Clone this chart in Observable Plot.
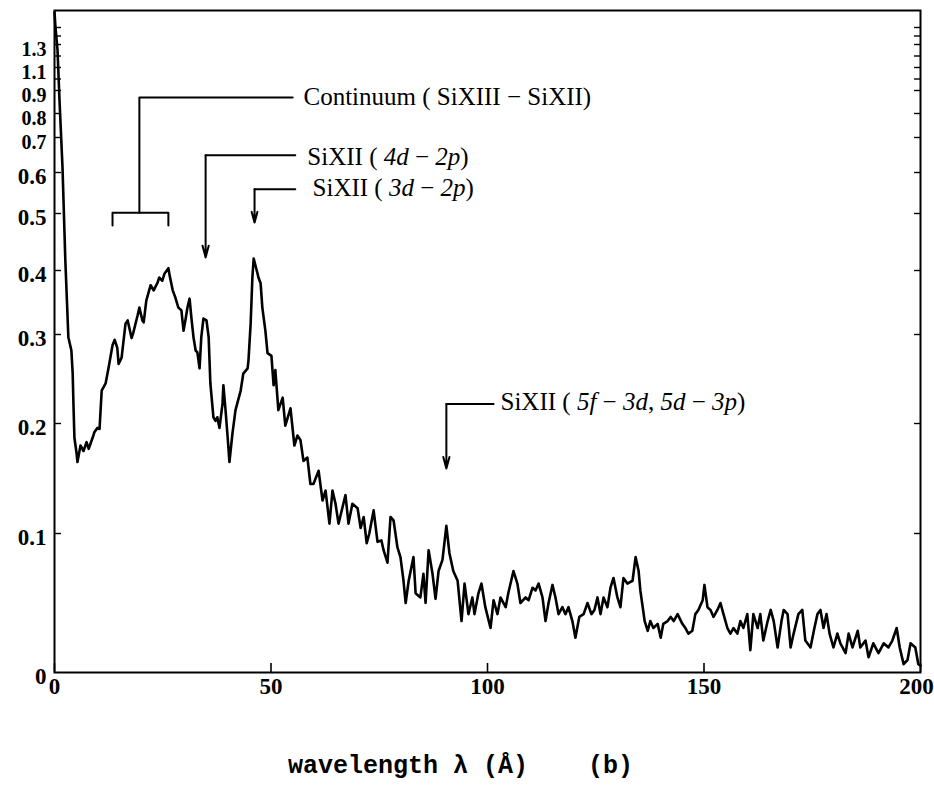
<!DOCTYPE html>
<html><head><meta charset="utf-8">
<script src="https://cdn.jsdelivr.net/npm/d3@7"></script>
<script src="https://cdn.jsdelivr.net/npm/@observablehq/plot@0.6"></script>
<style>
body{margin:0;background:#fff;}
#caption{font-family:"Liberation Mono",monospace;font-weight:bold;font-size:25px;white-space:pre;margin:33px 0 0 288px;color:#000;line-height:28px;}
</style></head><body>
<div id="chart"></div>
<div id="caption">wavelength λ (Å)    (b)</div>
<script>
// spectrum: [wavelength (Å), intensity]
const spectrum = [[0,1.68],[0.2,1.52],[0.7,1.25],[1.15,0.86],[1.85,0.614],[2.5,0.418],[3.2,0.297],[3.9,0.282],[4.2,0.256],[4.4,0.218],[4.6,0.187],[5.1,0.173],[5.3,0.165],[6.0,0.18],[6.7,0.175],[7.4,0.183],[7.9,0.177],[8.8,0.187],[9.2,0.192],[9.9,0.196],[10.4,0.195],[10.9,0.237],[11.8,0.245],[12.5,0.263],[13.4,0.288],[13.9,0.294],[14.5,0.285],[14.8,0.267],[15.5,0.274],[16.4,0.317],[16.9,0.322],[17.8,0.296],[18.2,0.303],[19.2,0.33],[19.6,0.342],[20.3,0.322],[20.6,0.319],[21.2,0.353],[22.2,0.377],[22.9,0.369],[23.8,0.381],[24.2,0.389],[24.9,0.384],[25.4,0.395],[26.3,0.404],[26.6,0.392],[27.3,0.369],[27.9,0.358],[28.6,0.342],[29.3,0.338],[29.8,0.306],[30.3,0.325],[30.7,0.342],[31.2,0.356],[31.6,0.327],[32.1,0.297],[32.6,0.282],[33.0,0.28],[33.5,0.262],[33.9,0.297],[34.4,0.325],[35.1,0.322],[35.6,0.297],[36.0,0.245],[36.7,0.207],[37.2,0.203],[37.6,0.207],[38.1,0.196],[38.8,0.222],[39.0,0.243],[39.5,0.215],[40.0,0.187],[40.4,0.165],[41.1,0.191],[41.8,0.215],[43.0,0.237],[43.6,0.256],[44.6,0.262],[44.8,0.271],[45.3,0.317],[45.7,0.389],[46.0,0.421],[46.9,0.395],[47.1,0.389],[47.6,0.38],[48.0,0.342],[48.7,0.306],[49.2,0.279],[50.1,0.276],[50.6,0.243],[51.0,0.26],[51.7,0.215],[52.7,0.229],[53.3,0.198],[54.5,0.217],[55.4,0.18],[56.1,0.189],[56.8,0.185],[57.5,0.166],[58.4,0.169],[59.1,0.145],[59.8,0.145],[61.0,0.157],[61.9,0.13],[62.6,0.139],[63.5,0.109],[64.2,0.139],[64.9,0.127],[65.6,0.109],[67.2,0.135],[67.9,0.109],[68.8,0.127],[70.0,0.123],[70.7,0.105],[71.4,0.115],[72.1,0.093],[72.7,0.1],[73.7,0.121],[74.6,0.094],[75.5,0.095],[76.0,0.088],[76.9,0.079],[77.6,0.115],[78.3,0.112],[79.2,0.09],[79.9,0.083],[80.6,0.066],[81.1,0.05],[81.8,0.066],[82.9,0.083],[83.4,0.057],[84.5,0.054],[85.2,0.071],[85.7,0.05],[86.4,0.088],[87.3,0.071],[88.0,0.053],[88.7,0.073],[89.6,0.081],[90.5,0.107],[91.2,0.086],[92.1,0.073],[93.1,0.066],[94.0,0.037],[94.7,0.064],[95.6,0.042],[96.5,0.054],[97.0,0.042],[97.9,0.057],[98.6,0.064],[99.5,0.047],[100.7,0.032],[101.4,0.052],[102.3,0.042],[103.0,0.054],[104.2,0.047],[104.8,0.057],[106.0,0.073],[106.9,0.064],[107.6,0.05],[108.8,0.054],[109.5,0.052],[110.4,0.061],[111.1,0.059],[111.8,0.064],[112.7,0.054],[113.4,0.037],[114.1,0.05],[115.0,0.063],[115.7,0.054],[116.4,0.042],[117.3,0.047],[118.0,0.042],[118.7,0.047],[119.6,0.037],[120.3,0.025],[121.2,0.04],[122.2,0.042],[123.1,0.05],[124.0,0.042],[124.7,0.045],[125.4,0.054],[126.1,0.042],[126.8,0.054],[127.7,0.047],[128.4,0.061],[129.1,0.068],[130.0,0.054],[130.7,0.047],[131.4,0.068],[132.3,0.064],[133.5,0.066],[134.2,0.083],[134.9,0.073],[135.3,0.059],[136.3,0.037],[137.0,0.03],[137.6,0.037],[138.3,0.032],[139.3,0.035],[140.0,0.025],[140.6,0.035],[141.6,0.037],[142.3,0.04],[143.0,0.037],[143.9,0.042],[145.0,0.035],[145.7,0.032],[146.4,0.028],[147.3,0.03],[148.0,0.042],[148.7,0.045],[149.7,0.052],[150.1,0.063],[150.8,0.047],[151.5,0.045],[152.2,0.04],[153.1,0.045],[153.8,0.05],[154.5,0.042],[155.4,0.032],[156.1,0.028],[156.8,0.032],[157.7,0.028],[158.4,0.037],[159.1,0.032],[160.0,0.042],[160.7,0.016],[161.4,0.042],[162.4,0.032],[163.0,0.042],[163.7,0.023],[164.7,0.037],[165.4,0.045],[166.1,0.037],[167.0,0.018],[167.9,0.037],[168.4,0.045],[169.3,0.042],[170.0,0.018],[170.7,0.028],[171.8,0.042],[172.7,0.045],[173.4,0.023],[174.6,0.018],[175.5,0.032],[176.2,0.042],[176.9,0.045],[177.6,0.032],[178.3,0.042],[179.0,0.028],[179.9,0.018],[180.8,0.028],[181.5,0.021],[182.7,0.014],[183.4,0.028],[184.3,0.018],[185.5,0.03],[186.1,0.018],[187.3,0.023],[188.0,0.011],[189.1,0.021],[190.3,0.014],[191.5,0.021],[192.6,0.018],[193.5,0.023],[194.5,0.032],[195.2,0.018],[196.1,0.006],[197.0,0.009],[197.7,0.021],[198.8,0.018],[199.5,0.006],[200,0.005]];

// axis tick values and labels
const xTicks = [0, 50, 100, 150];
const xTicksEnd = [200];
const yLabelTicksLow = [0, 0.1, 0.2, 0.3, 0.4, 0.5, 0.6];
const yLabelTicksHigh = [0.7, 0.8, 0.9, 1.1, 1.3];
const yMarkTicks = [0.1, 0.2, 0.3, 0.4, 0.5, 0.6, 0.7, 0.8, 0.9, 1.0, 1.1, 1.2, 1.3, 1.4, 1.5];
// hand-drawn nonlinear ordinate of the original figure (value knots)
const yKnots = [0, 0.1, 0.2, 0.3, 0.4, 0.5, 0.6, 0.7, 0.8, 0.9, 1.1, 1.3, 1.7];

// annotation leaders (polylines, in data units) and arrows
const leaderLines = [
  {id: "bracket", pts: [[13.4, 0.479], [13.4, 0.502], [26.3, 0.502], [26.3, 0.479]]},
  {id: "cont", pts: [[19.6, 0.502], [19.6, 0.87], [55.0, 0.87]]},
  {id: "4d", pts: [[55.6, 0.649], [34.9, 0.649]]},
  {id: "3d", pts: [[55.6, 0.559], [46.2, 0.559]]},
  {id: "5f", pts: [[101.4, 0.222], [90.5, 0.222]]}
];
const arrows = [
  {x: 34.9, from: 0.649, to: 0.423},
  {x: 46.2, from: 0.559, to: 0.484},
  {x: 90.5, from: 0.222, to: 0.159}
];
const labels = [
  {text: "Continuum ( SiXIII − SiXII)", x: 57.5, y: 0.87},
  {text: "SiXII ( *4d* − *2p*)", x: 58.4, y: 0.645},
  {text: "SiXII ( *3d* − *2p*)", x: 59.6, y: 0.561},
  {text: "SiXII ( *5f* − *3d*, *5d* − *3p*)", x: 103, y: 0.224}
];

const data = spectrum.map(([w, v]) => ({w, v}));
const leaderData = leaderLines.flatMap(l => l.pts.map(([x, y]) => ({id: l.id, x, y})));
const yFmt = d => d === 0 ? "0" : d.toFixed(1);

const chart = Plot.plot({
  width: 934,
  height: 720,
  marginLeft: 54,
  marginRight: 14,
  marginTop: 10,
  marginBottom: 48,
  style: {fontFamily: "Liberation Serif", color: "#000", background: "#fff"},
  x: {domain: [0, 200]},
  y: {type: "linear", domain: yKnots, range: [672, 533, 423, 334, 270, 213, 172, 137, 113, 90, 67, 44, 10]},
  marks: [
    Plot.frame({stroke: "#000", strokeWidth: 2}),
    // tick marks pointing inward
    Plot.axisX({ticks: [...xTicks, ...xTicksEnd], tickSize: -9, tickFormat: () => "", label: null, strokeWidth: 1.6}),
    Plot.axisY({anchor: "left", ticks: yMarkTicks, tickSize: -7, tickFormat: () => "", label: null, strokeWidth: 1.4}),
    Plot.axisY({anchor: "right", ticks: yMarkTicks, tickSize: -7, tickFormat: () => "", label: null, strokeWidth: 1.4}),
    // tick labels
    Plot.axisX({ticks: xTicks, tickSize: 0, tickPadding: 5, tickFormat: d => String(d), label: null, fontSize: 23, fontWeight: "bold"}),
    Plot.axisX({ticks: xTicksEnd, tickSize: 0, tickPadding: 5, dx: -4, tickFormat: d => String(d), label: null, fontSize: 23, fontWeight: "bold"}),
    Plot.axisY({anchor: "left", ticks: yLabelTicksLow, tickSize: 0, tickPadding: 8, dy: 4, tickFormat: yFmt, label: null, fontSize: 23, fontWeight: "bold"}),
    Plot.axisY({anchor: "left", ticks: yLabelTicksHigh, tickSize: 0, tickPadding: 8, dy: 5, tickFormat: yFmt, label: null, fontSize: 20, fontWeight: "bold"}),
    // spectrum
    Plot.line(data, {x: "w", y: "v", stroke: "#000", strokeWidth: 2.6, strokeLinejoin: "round"}),
    // annotation leaders
    Plot.line(leaderData, {x: "x", y: "y", z: "id", stroke: "#000", strokeWidth: 2}),
    Plot.arrow(arrows, {x1: "x", y1: "from", x2: "x", y2: "to", stroke: "#000", strokeWidth: 2, headLength: 9, headAngle: 30}),
    Plot.text(labels, {x: "x", y: "y", text: d => d.text.replace(/\*/g, ""), textAnchor: "start", lineAnchor: "middle", fontSize: 25, fill: "#000"})
  ]
});
document.getElementById("chart").appendChild(chart);

// italicise the orbital designations in annotation labels
chart.querySelectorAll("text").forEach(t => {
  const lab = labels.find(l => l.text.replace(/\*/g, "") === t.textContent);
  if (!lab || !lab.text.includes("*")) return;
  const parts = lab.text.split("*");
  t.textContent = "";
  parts.forEach((p, j) => {
    if (!p) return;
    const ts = document.createElementNS("http://www.w3.org/2000/svg", "tspan");
    ts.textContent = p;
    if (j % 2 === 1) ts.setAttribute("font-style", "italic");
    t.appendChild(ts);
  });
});
</script>
</body></html>
